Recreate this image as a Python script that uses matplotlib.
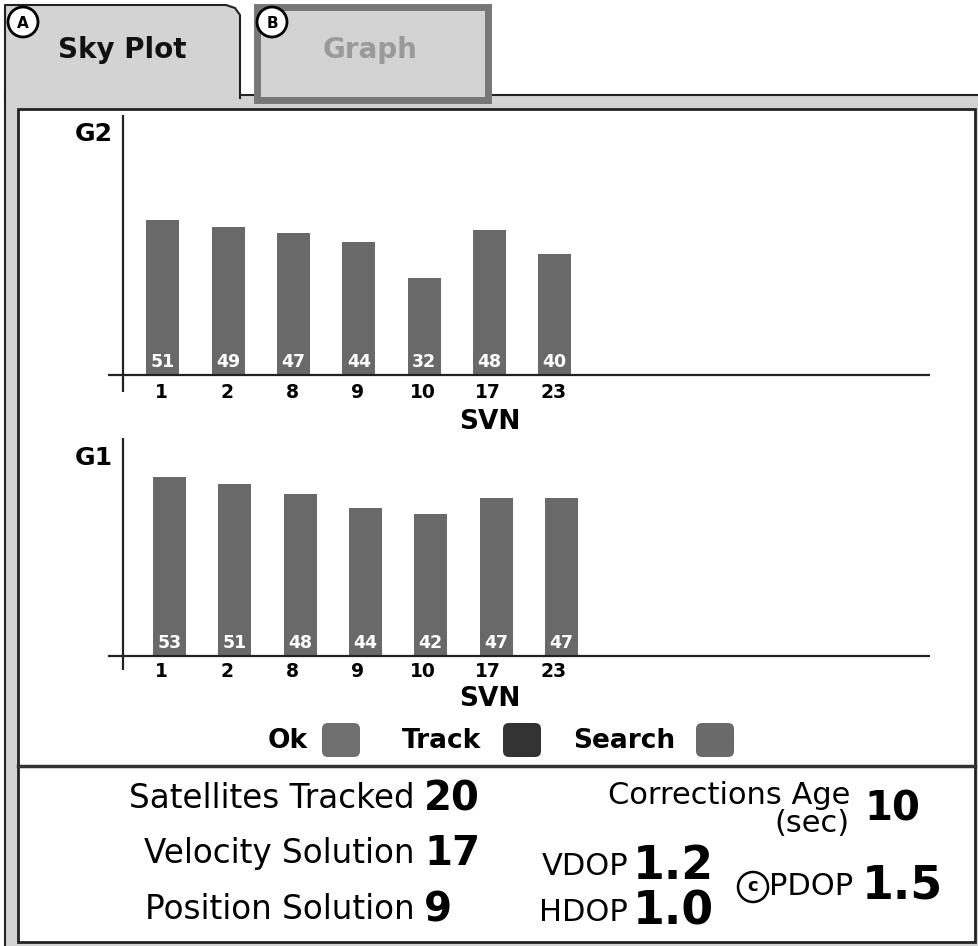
import numpy as np
import matplotlib
matplotlib.use("Agg")
import matplotlib.pyplot as plt
from matplotlib.patches import Rectangle, Circle, Polygon, FancyBboxPatch

W, H = 979, 946

svn = ["1", "2", "8", "9", "10", "17", "23"]
g2_snr = [51, 49, 47, 44, 32, 48, 40]
g1_snr = [53, 51, 48, 44, 42, 47, 47]

legend_names = ["Ok", "Track", "Search"]
legend_colors = ["#6f6f6f", "#333333", "#6a6a6a"]

stat_labels = ["Satellites Tracked", "Velocity Solution", "Position Solution"]
stat_values = ["20", "17", "9"]
dop_labels = ["VDOP", "HDOP"]
dop_values = ["1.2", "1.0"]
pdop_value = "1.5"
corr_age = "10"

BAR = "#696969"
DARK = "#222222"
PANEL = "#d3d3d3"

plt.rcParams["font.family"] = ["DejaVu Sans"]

fig = plt.figure(figsize=(W / 100, H / 100), dpi=100)
fig.patch.set_facecolor("white")

# camada de fundo em pixels (y para baixo)
bg = fig.add_axes([0, 0, 1, 1])
bg.set_xlim(0, W)
bg.set_ylim(H, 0)
bg.axis("off")

# painel cinza + moldura interna branca
bg.add_patch(Rectangle((5, 95), 990, 870, fc=PANEL, ec=DARK, lw=1.5))
bg.add_patch(Rectangle((18, 109), 957, 833, fc="white", ec=DARK, lw=2))

# aba Sky Plot (ativa, canto superior direito arredondado)
tab = [(5, 98), (5, 5), (226, 5), (235, 8), (240, 15), (240, 98)]
bg.add_patch(Polygon(tab, closed=True, fc=PANEL, ec="none", zorder=3))
tx, ty = zip(*tab)
bg.plot(tx, ty, color=DARK, lw=1.5, zorder=4)
bg.text(122, 50, "Sky Plot", fontsize=20, fontweight="bold", color="#111111",
        ha="center", va="center", zorder=5)

# aba Graph (inativa)
bg.add_patch(Rectangle((257, 7), 231, 93, fc=PANEL, ec="#777777", lw=5, zorder=3))
bg.text(370, 50, "Graph", fontsize=20, fontweight="bold", color="#9a9a9a",
        ha="center", va="center", zorder=5)

# marcadores A / B
for (cx, cy), letra in [((23, 22), "A"), ((272, 22), "B")]:
    bg.add_patch(Circle((cx, cy), 15, fc="white", ec="black", lw=2, zorder=6))
    bg.text(cx, cy + 1, letra, fontsize=11, fontweight="bold", ha="center",
            va="center", zorder=7)

# rotulos G2 / G1
bg.text(113, 134, "G2", fontsize=18, fontweight="bold", ha="right", va="center")
bg.text(113, 458, "G1", fontsize=18, fontweight="bold", ha="right", va="center")

# separador acima das estatisticas
bg.plot([18, 975], [766, 766], color="#333333", lw=2.5)

# legenda
leg_text_x = [268, 402, 573]
leg_box_x = [322, 503, 696]
for nome, cor, xt, xb in zip(legend_names, legend_colors, leg_text_x, leg_box_x):
    bg.text(xt, 741, nome, fontsize=19, fontweight="bold", ha="left", va="center")
    bg.add_patch(FancyBboxPatch((xb, 723), 38, 34,
                                boxstyle="round,pad=0,rounding_size=6",
                                fc=cor, ec="none"))

# estatisticas
for lab, val, y in zip(stat_labels, stat_values, [798, 853, 909]):
    bg.text(415, y, lab, fontsize=23.5, ha="right", va="center")
    bg.text(424, y + 1, val, fontsize=29, fontweight="bold", ha="left", va="center")

bg.text(850, 795, "Corrections Age", fontsize=22, ha="right", va="center")
bg.text(850, 823, "(sec)", fontsize=22, ha="right", va="center")
bg.text(864, 809, corr_age, fontsize=29, fontweight="bold", ha="left", va="center")

for lab, val, y in zip(dop_labels, dop_values, [866, 912]):
    bg.text(628, y, lab, fontsize=22, ha="right", va="center")
    bg.text(633, y, val, fontsize=33, fontweight="bold", ha="left", va="center")

bg.add_patch(Circle((753, 887), 15, fc="white", ec="black", lw=1.8))
bg.text(753, 886, "c", fontsize=13, fontweight="bold", ha="center", va="center")
bg.text(769, 886, "PDOP", fontsize=22, ha="left", va="center")
bg.text(862, 886, pdop_value, fontsize=33, fontweight="bold", ha="left", va="center")


def grafico(valores, top, bottom, base, px_unid, desloc, tick_px, svn_px):
    x0, passo = 163.0, 65.3
    ax = fig.add_axes([108 / W, 1 - bottom / H, (930 - 108) / W, (bottom - top) / H])
    ax.set_facecolor("none")
    ax.set_xlim((108 - x0) / passo, (930 - x0) / passo)
    ax.set_ylim(-(bottom - base) / px_unid, (base - top) / px_unid)
    for s in ax.spines.values():
        s.set_visible(False)
    ax.set_xticks([])
    ax.set_yticks([])

    pos = np.arange(len(svn))
    ax.bar(pos + desloc, valores, width=33 / passo, color=BAR, zorder=2)
    ax.axhline(0, color=DARK, lw=1.6, zorder=3)
    ax.axvline((123 - x0) / passo, color=DARK, lw=1.6, zorder=3)

    for i, (rot, v) in enumerate(zip(svn, valores)):
        ax.annotate(str(v), (i + desloc, 0), xytext=(0, 13.5 * 0.72),
                    textcoords="offset points", ha="center", va="center",
                    color="white", fontsize=12.5, fontweight="bold", zorder=4)
        ax.annotate(rot, (i - 0.02, 0), xytext=(0, -tick_px * 0.72),
                    textcoords="offset points", ha="center", va="center",
                    fontsize=13.5, fontweight="bold", annotation_clip=False)
    ax.annotate("SVN", ((490 - x0) / passo, 0), xytext=(0, -svn_px * 0.72),
                textcoords="offset points", ha="center", va="center",
                fontsize=19, fontweight="bold", annotation_clip=False)
    return ax


grafico(g2_snr, 115, 392, 375, 3.03, 0.0, 17, 47)
grafico(g1_snr, 438, 670, 656, 3.37, 0.1, 15, 43)

fig.savefig("out.png", dpi=100)
plt.close(fig)
